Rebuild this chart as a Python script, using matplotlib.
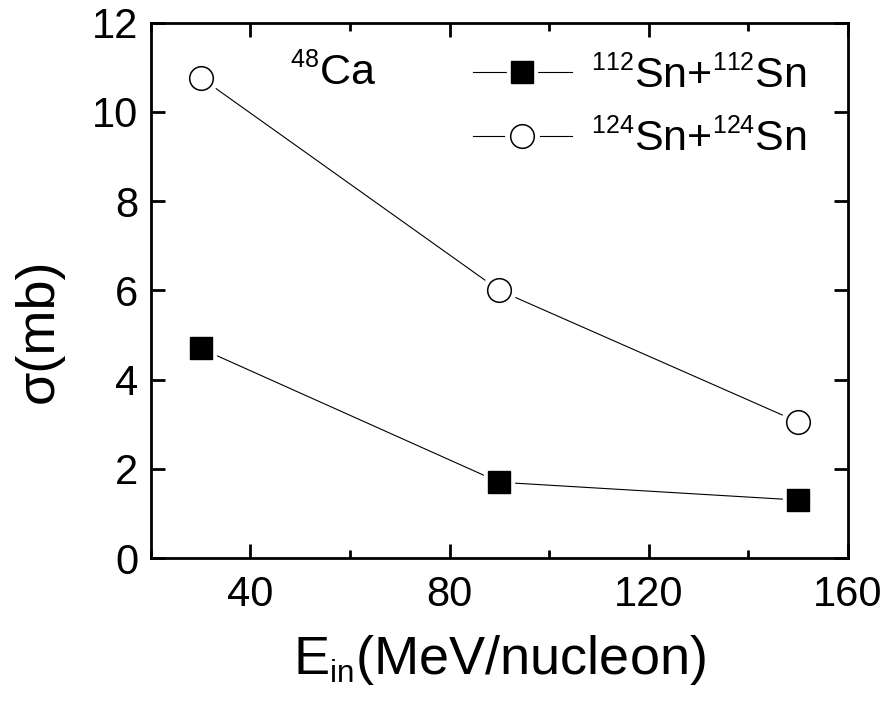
import matplotlib
matplotlib.use("Agg")
import matplotlib.pyplot as plt
import matplotlib._mathtext as mathtext_internals
from matplotlib.ticker import MultipleLocator

plt.rcParams['font.family'] = ['Liberation Sans', 'DejaVu Sans']
plt.rcParams['mathtext.fontset'] = 'custom'
plt.rcParams['mathtext.rm'] = 'Liberation Sans'
plt.rcParams['mathtext.it'] = 'Liberation Sans'
plt.rcParams['mathtext.bf'] = 'Liberation Sans'
# smaller super/subscripts, like the original
mathtext_internals.SHRINK_FACTOR = 0.58

# data
energy = [30, 90, 150]
sn112 = [4.7, 1.7, 1.3]
sn124 = [10.77, 6.0, 3.05]
label112 = r'$^{112}$Sn+$^{112}$Sn'
label124 = r'$^{124}$Sn+$^{124}$Sn'

fig = plt.figure(figsize=(8.87, 7.10), dpi=100)
ax = fig.add_axes([0.170, 0.214, 0.786, 0.754])

# line, then white halo markers so the line stops short of the symbol
l1, = ax.plot(energy, sn112, color='black', lw=0.8, marker='s', ms=22,
              mfc='white', mec='white', zorder=2)
m1, = ax.plot(energy, sn112, ls='none', marker='s', ms=15.5, mfc='black',
              mec='black', mew=1, zorder=3)
l2, = ax.plot(energy, sn124, color='black', lw=0.8, marker='o', ms=24,
              mfc='white', mec='white', zorder=2)
m2, = ax.plot(energy, sn124, ls='none', marker='o', ms=17, mfc='white',
              mec='black', mew=1.1, zorder=3)

ax.set_xlim(20, 160)
ax.set_ylim(0, 12)
ax.xaxis.set_major_locator(MultipleLocator(40))
ax.xaxis.set_minor_locator(MultipleLocator(20))
ax.yaxis.set_major_locator(MultipleLocator(2))

ax.tick_params(which='both', direction='in', top=True, right=True, width=2)
ax.tick_params(which='major', length=10, labelsize=30)
ax.tick_params(axis='x', which='major', pad=12)
ax.tick_params(axis='y', which='major', pad=9)
ax.tick_params(which='minor', length=6)
for s in ax.spines.values():
    s.set_linewidth(2)

ax.set_xlabel(r'E$_{\rm in}$(MeV/nucleon)', fontsize=39, labelpad=13)
ax.set_ylabel(r'σ(mb)', fontsize=39)
ax.yaxis.set_label_coords(-0.125, 0.424)

ax.text(48, 10.6, r'$^{48}$Ca', fontsize=31, va='baseline')

ax.legend([(l1, m1), (l2, m2)], [label112, label124], loc='upper left',
          bbox_to_anchor=(0.462, 0.937), frameon=False, fontsize=31,
          handlelength=2.3, handletextpad=0.45, labelspacing=0.55,
          borderaxespad=0, borderpad=0)

fig.savefig('out.png', dpi=100)
